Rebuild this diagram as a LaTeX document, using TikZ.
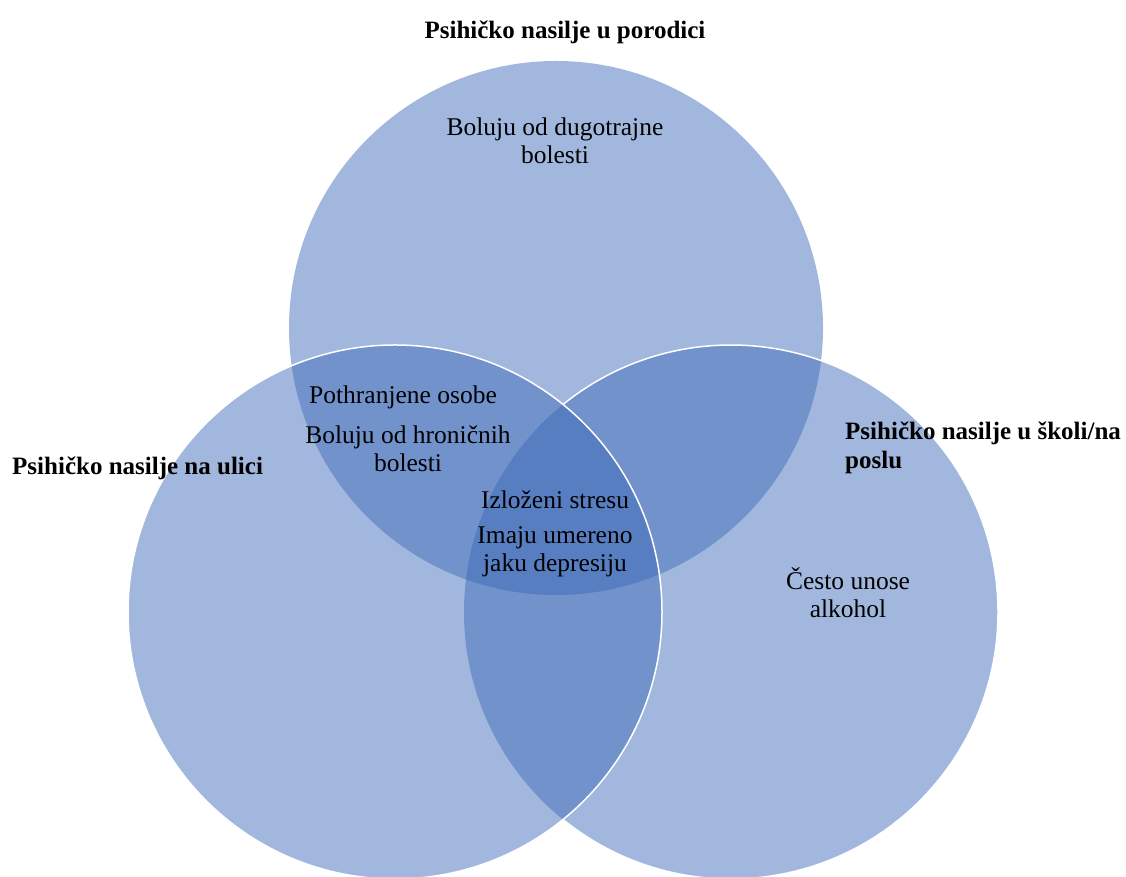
\documentclass[tikz,border=0pt]{standalone}
\usepackage{fontspec}
\setmainfont{Liberation Serif}
\usetikzlibrary{positioning}
\definecolor{vennblue}{RGB}{61,105,184}
\tikzset{
    x=1pt, y=1pt,
    node distance=17pt,
    set/.style={
        circle,
        minimum size=534pt,
        inner sep=0pt,
        fill=vennblue,
        fill opacity=0.48
    },
    rim/.style={
        draw=white,
        line width=1.5pt
    },
    title/.style={
        font=\fontsize{25}{29}\selectfont\bfseries,
        align=left,
        inner sep=0pt
    },
    item/.style={
        font=\fontsize{25.5}{28}\selectfont,
        align=center,
        inner sep=0pt
    }
}

\begin{document}
\begin{tikzpicture}
                \useasboundingbox (0,0) rectangle (1126,877);
                \node[set] (home) at (556,549) {};
                \node[set] (street) at (395,265) {};
                \node[set] (work) at (731,265) {};

                % white borders, only where a set lies on top
                \draw[rim] (work.center) ++(231:267) arc[start angle=231, end angle=489, radius=267];
                \draw[rim] (street.center) circle (267);

                \node[title, anchor=north] (thome) at (565,856) {Psihičko nasilje u porodici};
                \node[title, anchor=west] (tstreet) at (12,409) {Psihičko nasilje na ulici};
                \node[title, anchor=west] (twork) at (845,429) {Psihičko nasilje u školi/na\\poslu};

                \node[item] (long) at (555,736) {Boluju od dugotrajne\\bolesti};
                \node[item] (thin) at (403,480) {Pothranjene osobe};
                \node[item, below=of thin, xshift=5pt] (chronic) {Boluju od hroničnih\\bolesti};
                \node[item] (stress) at (555,377) {Izloženi stresu};
                \node[item, below=of stress] (depr) {Imaju umereno\\jaku depresiju};
                \node[item] (alc) at (848,284) {Često unose\\alkohol};
            \end{tikzpicture}
\end{document}
